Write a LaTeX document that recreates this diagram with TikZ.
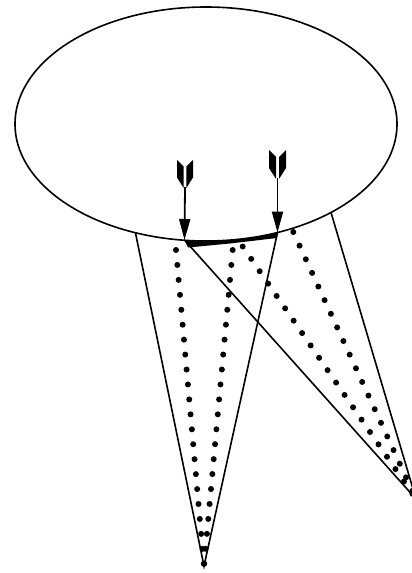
\documentclass[tikz,border=0pt]{standalone}
\usetikzlibrary{arrows.meta}
\begin{document}
\begin{tikzpicture}[x=1pt,y=-1pt,
  outline/.style={line width=1.6pt},
  ray/.style={line width=1.6pt},
  dotline/.style={line width=6pt, line cap=round, dash pattern=on 0pt off 15pt},
  vane/.style={fill=black},
  shaft/.style={line width=1.8pt, -{Triangle[length=21pt,width=11pt]}}]
\useasboundingbox (0,0) rectangle (412,573);
\clip (0,0) rectangle (412,573);
% named points
\coordinate (A) at (184.5,240);
\coordinate (B) at (277.5,232.6);
\coordinate (P) at (204,566);
\coordinate (Q) at (416,499);
\coordinate (L) at (135.5,233);
\coordinate (R) at (331,212.5);
% ellipse
\draw[outline] (206,124) ellipse [x radius=191, y radius=117];
% thick bar between the arrow tips
\fill (184.5,240) -- (206,241) -- (230,240) -- (255,237) -- (277.5,232.6)
      -- (277,238) -- (230,243.5) -- (188,247.5) -- cycle;
% rays
\draw[ray] (L) -- (P) -- (B);
\draw[ray] (A) -- (Q);
\draw[ray] (R) -- (Q);
% dotted rays
\draw[dotline] (176,250) -- (P);
\draw[dotline] (232.7,250) -- (P);
\draw[dotline] (242.7,246.5) -- (Q);
\draw[dotline] (293.3,232) -- (Q);
% arrow 1
\coordinate (F1) at (185,187);
\fill[vane] (177,160) -- (183.6,166.5) -- (183.6,188) -- (177,177.5) -- cycle;
\fill[vane] (193,160) -- (186.4,166.5) -- (186.4,188) -- (193,177.5) -- cycle;
\draw[shaft] (F1) -- (A);
% arrow 2
\coordinate (F2) at (277.5,178);
\fill[vane] (269,150) -- (276,157) -- (276,179) -- (269,168) -- cycle;
\fill[vane] (286,150) -- (279,157) -- (279,179) -- (286,168) -- cycle;
\draw[shaft] (F2) -- (B);
\end{tikzpicture}
\end{document}
